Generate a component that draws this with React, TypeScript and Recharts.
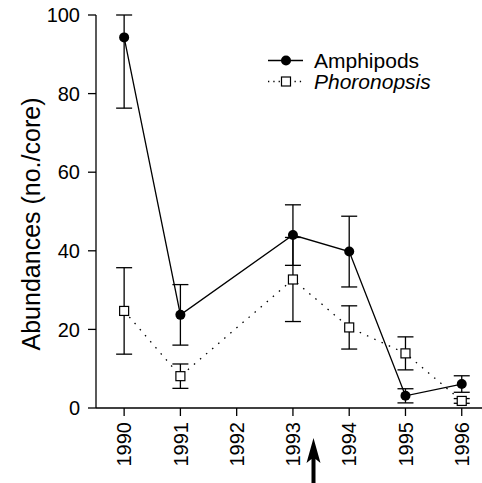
import { LineChart, Line, XAxis, YAxis, ErrorBar } from "recharts";

const years = [1990, 1991, 1993, 1994, 1995, 1996];
const yearTicks = [1990, 1991, 1992, 1993, 1994, 1995, 1996];
const yTicks = [0, 20, 40, 60, 80, 100];

const amphipods = [94.3, 23.7, 44.0, 39.8, 3.1, 6.1];
const amphipodsErrLow = [18, 7.7, 7.7, 9, 1.8, 2.1];
const amphipodsErrHigh = [5.7, 7.7, 7.7, 9, 1.8, 2.1];

const phoronopsis = [24.7, 8.1, 32.7, 20.5, 13.9, 1.8];
const phoronopsisErr = [11, 3.1, 10.7, 5.5, 4.2, 0.6];

const data = years.map((year, i) => ({
  year,
  amph: amphipods[i],
  amphErr: [amphipodsErrLow[i], amphipodsErrHigh[i]],
  phor: phoronopsis[i],
  phorErr: phoronopsisErr[i],
}));

const FONT = "'Liberation Sans', Arial, sans-serif";

const XTick = (props: any) => {
  const { x, y, payload } = props;
  return (
    <g transform={`translate(${x},${y})`}>
      <text
        transform="rotate(-90)"
        x={-6}
        y={0}
        dy="0.36em"
        textAnchor="end"
        fontSize={20}
        fontFamily={FONT}
        fill="#000"
      >
        {payload.value}
      </text>
    </g>
  );
};

const SquareDot = (props: any) => {
  const { cx, cy } = props;
  if (cx == null || cy == null) return null;
  return (
    <rect x={cx - 4.5} y={cy - 4.5} width={9} height={9} fill="#fff" stroke="#000" strokeWidth={1.2} />
  );
};

// legend drawn as an overlay so it does not take space from the plot
const LegendBox = () => (
  <div
    style={{
      position: "absolute",
      left: 268,
      top: 50,
      fontFamily: FONT,
      fontSize: 21,
      color: "#000",
      lineHeight: "21px",
    }}
  >
    <div style={{ display: "flex", alignItems: "center", height: 21 }}>
      <svg width={36} height={21}>
        <line x1={0} y1={10.5} x2={35} y2={10.5} stroke="#000" strokeWidth={1.3} />
        <circle cx={18} cy={10.5} r={5} fill="#000" />
      </svg>
      <span style={{ marginLeft: 10 }}>Amphipods</span>
    </div>
    <div style={{ display: "flex", alignItems: "center", height: 21 }}>
      <svg width={36} height={21}>
        <line x1={0} y1={10.5} x2={35} y2={10.5} stroke="#000" strokeWidth={1.3} strokeDasharray="1.3 4" />
        <rect x={13.5} y={6} width={9} height={9} fill="#fff" stroke="#000" strokeWidth={1.2} />
      </svg>
      <span style={{ marginLeft: 10, fontStyle: "italic" }}>Phoronopsis</span>
    </div>
  </div>
);

export default function App() {
  return (
    <div style={{ position: "absolute", left: 0, top: 0, width: 482, height: 483, background: "#fff" }}>
      <LineChart width={482} height={483} data={data} margin={{ top: 15, right: 0, left: 0, bottom: 0 }}>
        <XAxis
          dataKey="year"
          type="number"
          domain={[1989.5, 1996.36]}
          ticks={yearTicks}
          interval={0}
          allowDataOverflow
          height={75}
          tickSize={8}
          tickMargin={0}
          stroke="#000"
          tickLine={{ stroke: "#000", strokeWidth: 1.3 }}
          axisLine={{ stroke: "#000", strokeWidth: 1.3 }}
          tick={<XTick />}
        />
        <YAxis
          type="number"
          domain={[0, 100]}
          ticks={yTicks}
          width={96}
          tickSize={8}
          tickMargin={8}
          stroke="#000"
          tickLine={{ stroke: "#000", strokeWidth: 1.3 }}
          axisLine={{ stroke: "#000", strokeWidth: 1.3 }}
          tick={{ fontSize: 20, fontFamily: FONT, fill: "#000" }}
          label={{
            content: () => (
              <text
                x={31}
                y={224}
                transform="rotate(-90, 31, 224)"
                textAnchor="middle"
                dominantBaseline="central"
                fontSize={25}
                fontFamily={FONT}
                fill="#000"
              >
                Abundances (no./core)
              </text>
            ),
          }}
        />
        <Line
          dataKey="phor"
          name="Phoronopsis"
          stroke="#000"
          strokeWidth={1.3}
          strokeDasharray="1.5 6.5"
          dot={<SquareDot />}
          activeDot={false}
          isAnimationActive={false}
        >
          <ErrorBar dataKey="phorErr" width={8} stroke="#000" strokeWidth={1.3} direction="y" isAnimationActive={false} />
        </Line>
        <Line
          dataKey="amph"
          name="Amphipods"
          stroke="#000"
          strokeWidth={1.3}
          dot={{ r: 5, fill: "#000", stroke: "#000", strokeWidth: 0 }}
          activeDot={false}
          isAnimationActive={false}
        >
          <ErrorBar dataKey="amphErr" width={8} stroke="#000" strokeWidth={1.3} direction="y" isAnimationActive={false} />
        </Line>
      </LineChart>
      <LegendBox />
      <svg
        width={482}
        height={483}
        style={{ position: "absolute", left: 0, top: 0, pointerEvents: "none" }}
      >
        <path d="M313.5 438 L320.5 463 L315.5 459 L315.5 483 L311.5 483 L311.5 459 L306.5 463 Z" fill="#000" />
      </svg>
    </div>
  );
}
